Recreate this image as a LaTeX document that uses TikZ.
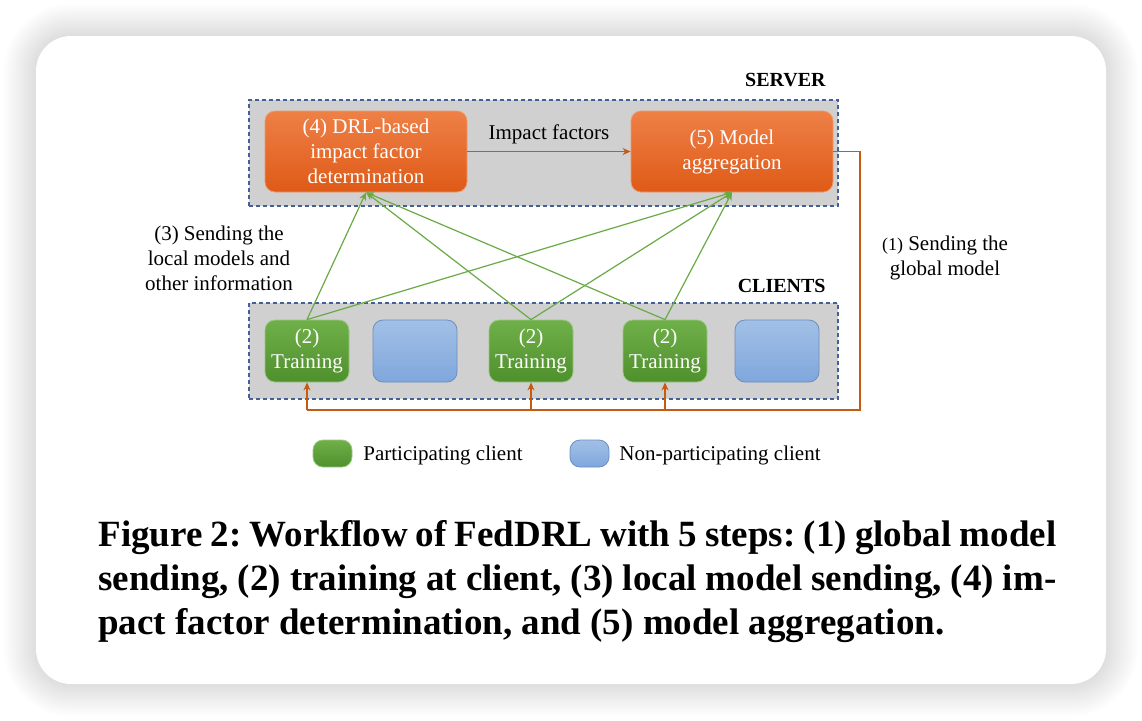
\documentclass[tikz,border=0pt]{standalone}
\usepackage{fontspec}
\setmainfont{Liberation Serif}
\usetikzlibrary{arrows.meta}
\definecolor{orgtop}{HTML}{EE8047}
\definecolor{orgbot}{HTML}{DF5A17}
\definecolor{grntop}{HTML}{70B04A}
\definecolor{grnbot}{HTML}{4E902C}
\definecolor{blutop}{HTML}{A2C0E6}
\definecolor{blubot}{HTML}{7FA7DD}
\definecolor{areafill}{HTML}{D0D0D0}
\definecolor{arealine}{HTML}{44609A}
\definecolor{fbcol}{HTML}{C55A11}
\definecolor{upcol}{HTML}{6AAA45}
\tikzset{
  area/.style={rectangle, fill=areafill, draw=arealine, line width=0.6pt, dash pattern=on 2pt off 1.5pt, minimum width=294.5pt, minimum height=53pt, inner sep=0pt},
  srvbox/.style={rectangle, rounded corners=5pt, top color=orgtop, bottom color=orgbot, draw=orgtop!80!white, text=white, align=center, minimum width=101pt, minimum height=40.5pt, inner sep=0pt, font=\fontsize{10.5}{12.5}\selectfont},
  partbox/.style={rectangle, rounded corners=5pt, top color=grntop, bottom color=grnbot, draw=grntop!70!white, text=white, align=center, minimum width=42pt, minimum height=31pt, inner sep=0pt, font=\fontsize{10.5}{12.5}\selectfont},
  nonbox/.style={rectangle, rounded corners=5pt, top color=blutop, bottom color=blubot, draw=blubot!85!black, minimum width=42pt, minimum height=31pt, inner sep=0pt},
  lbl/.style={align=center, font=\fontsize{10.5}{12.5}\selectfont},
  title/.style={anchor=east, inner sep=0pt, font=\fontsize{10}{12}\selectfont\bfseries},
  upline/.style={draw=upcol, line width=0.6pt, -{Stealth[length=4pt,width=3.5pt]}},
  fbline/.style={draw=fbcol, line width=0.6pt},
  fbarrow/.style={fbline, -{Stealth[length=4pt,width=3.5pt]}}
}
\begin{document}
\begin{tikzpicture}[x=0.5pt, y=-0.5pt]
\useasboundingbox (0,0) rectangle (1142,720);
\fill[white] (0,0) rectangle (1142,720);
% card and its shadow
\foreach \i in {1,...,16}{
  \pgfmathsetmacro\rr{17.5+1*\i}
  \fill[black, opacity=0.0095, rounded corners=\rr pt] ({36-2*\i},{36-2*\i}) rectangle ({1106+2*\i},{684+2*\i});
}
\fill[white, rounded corners=17.5pt] (36,36) rectangle (1106,684);
% server
\node[area, minimum height=53pt] (srvarea) at (543.5,153){};
\node[title] (srvtitle) at (826,80.5){SERVER};
\node[srvbox] (srv0) at (366,151.5){(4) DRL-based\\impact factor\\determination};
\node[srvbox] (srv1) at (732,151.5){(5) Model\\aggregation};
\draw[fbarrow](srv0) -- node[lbl, above=0pt]{Impact factors} (srv1);
% clients
\node[area, minimum height=48pt] (clarea) at (543.5,351){};
\node[title] (cltitle) at (826,285.5){CLIENTS};
\node[partbox] (cl0) at (307,351){(2)\\Training};
\node[nonbox] (cl1) at (415,351){};
\node[partbox] (cl2) at (531,351){(2)\\Training};
\node[partbox] (cl3) at (665,351){(2)\\Training};
\node[nonbox] (cl4) at (777,351){};
% (3) local models up
\draw[upline](cl0.north) -- (srv0.south);
\draw[upline](cl0.north) -- (srv1.south);
\draw[upline](cl2.north) -- (srv0.south);
\draw[upline](cl2.north) -- (srv1.south);
\draw[upline](cl3.north) -- (srv0.south);
\draw[upline](cl3.north) -- (srv1.south);
\node[lbl] (uptext) at (219,258){(3) Sending the\\local models and\\other information};
% (1) global model down
\coordinate (fbc) at (860,410);
\coordinate (bus0) at (307,410);
\coordinate (bus2) at (531,410);
\coordinate (bus3) at (665,410);
\draw[fbline](srv1.east) -| (fbc) -- (bus0);
\draw[fbarrow](bus0) -- (cl0.south);
\draw[fbarrow](bus2) -- (cl2.south);
\draw[fbarrow](bus3) -- (cl3.south);
\node[lbl] (fbtext) at (945,258){{\fontsize{9}{12.5}\selectfont(1)} Sending the\\global model};
% legend
\node[partbox, minimum width=19.5pt, minimum height=13.5pt] (lg0) at (332.5,453.5){};
\node[lbl, anchor=west, inner sep=0pt] (lg0text) at (363,455){Participating client};
\node[nonbox, minimum width=19.5pt, minimum height=13.5pt] (lg1) at (589.5,453.5){};
\node[lbl, anchor=west, inner sep=0pt] (lg1text) at (619,455){Non-participating client};
% caption
\node[anchor=north west, inner sep=0pt, text width=479pt, align=justify, font=\fontsize{18.5}{22}\selectfont\bfseries\frenchspacing] (caption) at (98,520){Figure 2: Workflow of FedDRL with 5 steps: (1) global model\linebreak sending, (2) training at client, (3) local model sending, (4) im-\linebreak pact factor determination, and (5) model aggregation.};
\end{tikzpicture}
\end{document}
